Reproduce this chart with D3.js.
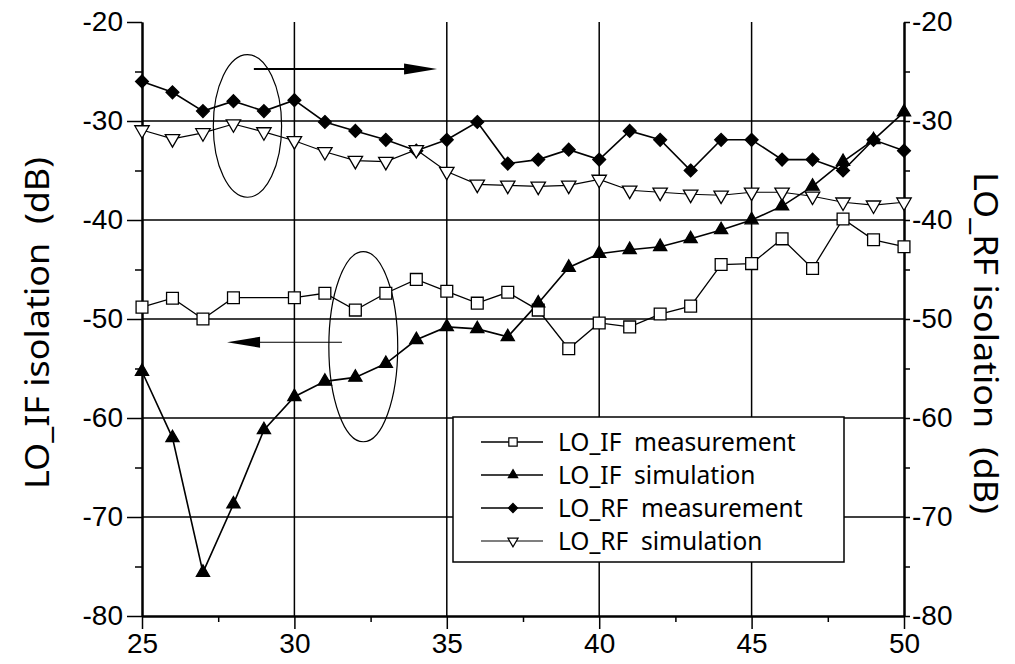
<!DOCTYPE html>
<html>
<head>
<meta charset="utf-8">
<script src="https://cdn.jsdelivr.net/npm/d3@7"></script>
<style>
  body { margin: 0; background: #fff; }
  svg { display: block; }
  text.pre { white-space: pre; }
</style>
</head>
<body>
<svg id="chart" width="1015" height="664"></svg>
<script>
// frequency (GHz) on x, isolation (dB) on both y axes
var freq = d3.range(25, 51);
var xTicks = [25, 30, 35, 40, 45, 50];
var yTicks = [-80, -70, -60, -50, -40, -30, -20];

var loIfMeas = [-48.8, -47.9, -50.0, -47.85, null, -47.85, -47.4, -49.1, -47.4, -46.0, -47.2, -48.4, -47.3,
                -49.1, -53.0, -50.4, -50.8, -49.5, -48.7, -44.5, -44.4, -41.9, -44.9, -39.9, -42.0, -42.7];
var loIfSim = [-55.3, -62.0, -75.6, -68.7, -61.2, -57.85, -56.3, -55.9, -54.5, -52.1, -50.8, -51.0, -51.8,
               -48.4, -44.8, -43.4, -43.0, -42.7, -41.9, -41.0, -40.0, -38.6, -36.6, -34.1, -31.9, -29.1];
var loRfMeas = [-26.0, -27.1, -29.0, -28.0, -29.0, -27.9, -30.1, -31.0, -31.9, -33.0, -31.9, -30.1, -34.3,
                -33.9, -32.9, -33.9, -31.0, -31.9, -35.0, -31.9, -31.9, -33.9, -33.9, -35.0, -31.9, -33.0];
var loRfSim = [-30.9, -31.8, -31.2, -30.3, -31.1, -32.0, -33.1, -34.0, -34.1, -32.9, -35.1, -36.4, -36.5,
               -36.6, -36.5, -35.9, -37.0, -37.2, -37.4, -37.5, -37.2, -37.2, -37.6, -38.2, -38.5, -38.2];

var seriesNames = ["LO_IF  measurement", "LO_IF  simulation", "LO_RF  measurement", "LO_RF  simulation"];

// annotations in data units: ellipses [x, y, rx, ry], arrows [x1, x2, y]
var ellipses = [[28.46, -30.5, 1.12, 7.2], [32.26, -52.8, 1.13, 9.6]];
var arrows = [[28.67, 34.68, -24.75], [31.56, 27.79, -52.35]];

var svg = d3.select("#chart");
var x = d3.scaleLinear().domain([25, 50]).range([142, 904]);
var y = d3.scaleLinear().domain([-80, -20]).range([616, 22]);

var tickFont = "'Liberation Sans', Arial, sans-serif";
var labelFont = "'Noto Sans', sans-serif";
var plain = d => String(d);

// grid
var grid = svg.append("g").attr("stroke", "#000").attr("stroke-width", 1.5);
grid.selectAll(".gx").data(xTicks.slice(1, -1)).enter().append("line")
    .attr("x1", d => x(d)).attr("x2", d => x(d))
    .attr("y1", y(-20)).attr("y2", y(-80));
grid.selectAll(".gy").data(yTicks.slice(1, -1)).enter().append("line")
    .attr("x1", x(25)).attr("x2", x(50))
    .attr("y1", d => y(d)).attr("y2", d => y(d));

// axes
function styleAxis(g) {
    g.selectAll(".domain").attr("stroke-width", 2);
    g.selectAll(".tick line").attr("stroke-width", 1.5);
    g.selectAll("text").attr("font-family", tickFont).attr("font-size", 28).attr("fill", "#000");
}
var minorX = d3.range(27.5, 50, 5);
var minorY = d3.range(-75, -20, 10);

svg.append("g").attr("transform", "translate(" + x(25) + ",0)")
    .call(d3.axisLeft(y).tickValues(yTicks).tickFormat(plain).tickSize(15).tickPadding(4).tickSizeOuter(0))
    .call(styleAxis);
svg.append("g").attr("transform", "translate(" + x(25) + ",0)")
    .call(d3.axisLeft(y).tickValues(minorY).tickSize(7).tickFormat("").tickSizeOuter(0))
    .call(styleAxis);
svg.append("g").attr("transform", "translate(" + x(50) + ",0)")
    .call(d3.axisRight(y).tickValues(yTicks).tickFormat(plain).tickSize(6).tickPadding(2).tickSizeOuter(0))
    .call(styleAxis);
svg.append("g").attr("transform", "translate(" + x(50) + ",0)")
    .call(d3.axisRight(y).tickValues(minorY).tickSize(6).tickFormat("").tickSizeOuter(0))
    .call(styleAxis);
svg.append("g").attr("transform", "translate(0," + y(-80) + ")")
    .call(d3.axisBottom(x).tickValues(xTicks).tickFormat(plain).tickSize(13).tickPadding(4).tickSizeOuter(0))
    .call(styleAxis);
svg.append("g").attr("transform", "translate(0," + y(-80) + ")")
    .call(d3.axisBottom(x).tickValues(minorX).tickSize(6).tickFormat("").tickSizeOuter(0))
    .call(styleAxis);

// axis titles
svg.append("text").attr("class", "pre")
    .attr("transform", "translate(36," + 323 + ") rotate(-90)")
    .attr("text-anchor", "middle").attr("dominant-baseline", "central")
    .attr("font-family", labelFont).attr("font-size", 32)
    .attr("textLength", 332).attr("lengthAdjust", "spacingAndGlyphs")
    .text("LO_IF isolation  (dB)");
svg.append("text").attr("class", "pre")
    .attr("transform", "translate(986," + 343 + ") rotate(90)")
    .attr("text-anchor", "middle").attr("dominant-baseline", "central")
    .attr("font-family", labelFont).attr("font-size", 32)
    .attr("textLength", 342).attr("lengthAdjust", "spacingAndGlyphs")
    .text("LO_RF isolation  (dB)");

// annotations
svg.selectAll(".ell").data(ellipses).enter().append("ellipse")
    .attr("cx", d => x(d[0])).attr("cy", d => y(d[1]))
    .attr("rx", d => x(25 + d[2]) - x(25)).attr("ry", d => y(-80) - y(-80 + d[3]))
    .attr("fill", "none").attr("stroke", "#000").attr("stroke-width", 1.2);
arrows.forEach(function(a) {
    var x1 = x(a[0]), x2 = x(a[1]), yy = y(a[2]);
    var dir = x2 > x1 ? 1 : -1;
    svg.append("line").attr("x1", x1).attr("x2", x2 - dir * 20).attr("y1", yy).attr("y2", yy)
        .attr("stroke", "#000").attr("stroke-width", dir > 0 ? 2 : 1);
    svg.append("path")
        .attr("d", "M" + x2 + "," + yy + "L" + (x2 - dir * 33) + "," + (yy - 5.5) + "L" + (x2 - dir * 33) + "," + (yy + 5.5) + "Z")
        .attr("fill", "#000");
});

// series
var series = [
    { name: seriesNames[0], values: loIfMeas, sym: d3.symbolSquare, size: 140, fill: "#fff", rot: 0, lw: 1.3 },
    { name: seriesNames[1], values: loIfSim, sym: d3.symbolTriangle, size: 75, fill: "#000", rot: 0, lw: 1.6 },
    { name: seriesNames[2], values: loRfMeas, sym: d3.symbolDiamond2, size: 105, fill: "#000", rot: 0, lw: 1.6 },
    { name: seriesNames[3], values: loRfSim, sym: d3.symbolTriangle, size: 90, fill: "#fff", rot: 180, lw: 1.1 }
];

var line = d3.line().x(d => x(d.f)).y(d => y(d.v));

series.forEach(function(s) {
    var pts = freq.map((f, i) => ({ f: f, v: s.values[i] })).filter(d => d.v !== null);
    s.pts = pts;
    svg.append("path").datum(pts).attr("d", line)
        .attr("fill", "none").attr("stroke", "#000").attr("stroke-width", s.lw);
});
series.forEach(function(s) {
    svg.append("g").selectAll("path").data(s.pts).enter().append("path")
        .attr("d", d3.symbol().type(s.sym).size(s.size))
        .attr("transform", d => "translate(" + x(d.f) + "," + y(d.v) + ") rotate(" + s.rot + ")")
        .attr("fill", s.fill).attr("stroke", "#000").attr("stroke-width", 1.3);
});

// legend
var lg = svg.append("g").attr("transform", "translate(453,417)");
lg.append("rect").attr("width", 391).attr("height", 145)
    .attr("fill", "#fff").attr("stroke", "#000").attr("stroke-width", 1.5);
var rows = lg.selectAll(".row").data(series).enter().append("g")
    .attr("transform", (d, i) => "translate(0," + (25 + i * 33) + ")");
rows.append("line").attr("x1", 28).attr("x2", 90).attr("stroke", "#000").attr("stroke-width", d => d.lw);
rows.append("path")
    .attr("d", d => d3.symbol().type(d.sym).size(d.size * 0.5)())
    .attr("transform", d => "translate(60,0) rotate(" + d.rot + ")")
    .attr("fill", d => d.fill).attr("stroke", "#000").attr("stroke-width", 1.2);
rows.append("text").attr("class", "pre").attr("x", 105).attr("dy", "0.35em")
    .attr("font-family", labelFont).attr("font-size", 24.5)
    .text(d => d.name);
</script>
</body>
</html>
